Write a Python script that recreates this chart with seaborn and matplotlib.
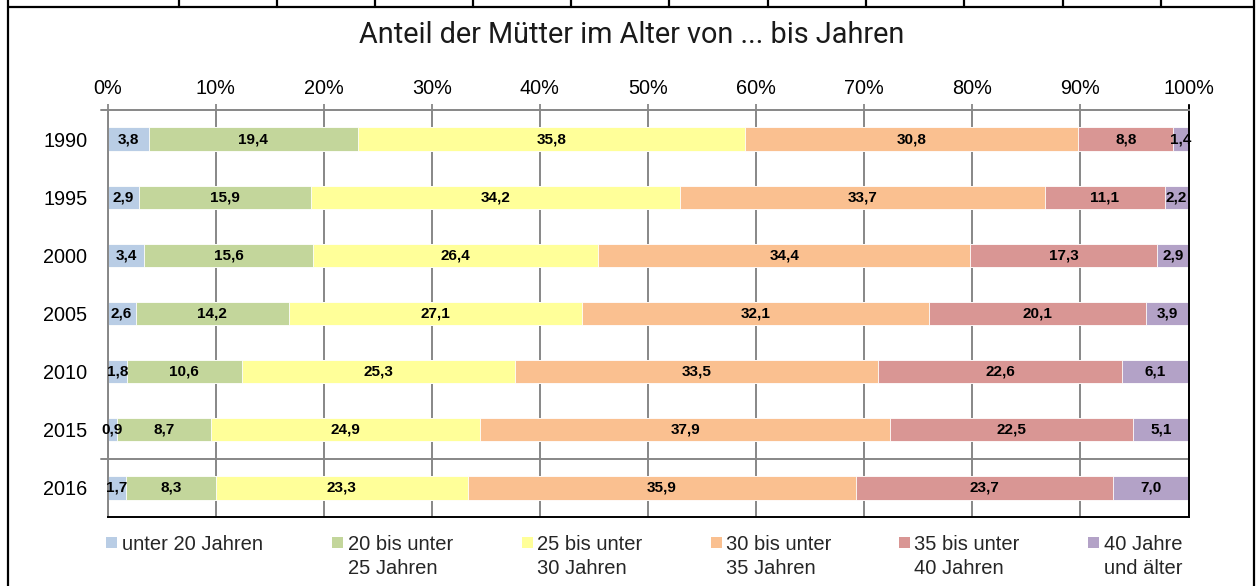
import numpy as np
import pandas as pd
import seaborn as sns
import matplotlib.pyplot as plt
from matplotlib.lines import Line2D
from matplotlib.patches import Rectangle

# Anteil der Mütter nach Altersgruppe, in %
years = ["1990", "1995", "2000", "2005", "2010", "2015", "2016"]
groups = ["unter 20 Jahren", "20 bis unter\n25 Jahren", "25 bis unter\n30 Jahren",
          "30 bis unter\n35 Jahren", "35 bis unter\n40 Jahren", "40 Jahre\nund älter"]
unter20 = [3.8, 2.9, 3.4, 2.6, 1.8, 0.9, 1.7]
j20_25 = [19.4, 15.9, 15.6, 14.2, 10.6, 8.7, 8.3]
j25_30 = [35.8, 34.2, 26.4, 27.1, 25.3, 24.9, 23.3]
j30_35 = [30.8, 33.7, 34.4, 32.1, 33.5, 37.9, 35.9]
j35_40 = [8.8, 11.1, 17.3, 20.1, 22.6, 22.5, 23.7]
ab40 = [1.4, 2.2, 2.9, 3.9, 6.1, 5.1, 7.0]
colors = ["#B9CDE5", "#C3D69B", "#FFFF99", "#FAC090", "#D99694", "#B3A2C7"]

W, H = 1258, 586
GRID = "#878787"

df = pd.DataFrame([unter20, j20_25, j25_30, j30_35, j35_40, ab40], index=groups, columns=years).T
pct = df.div(df.sum(axis=1), axis=0) * 100   # 100%-gestapelt wie in Excel
cum = pct.cumsum(axis=1)

sns.set_style("white")
plt.rcParams["font.family"] = ["Liberation Sans", "DejaVu Sans"]

fig = plt.figure(figsize=(W / 100, H / 100), dpi=100)
ax = fig.add_axes([107.5 / W, 1 - 517 / H, 1081 / W, (517 - 110) / H])

# gestapelte Balken: kumulierte Summen von hinten nach vorne zeichnen
for i in range(len(groups) - 1, -1, -1):
    d = pd.DataFrame({"year": years, "val": cum.iloc[:, i].values})
    sns.barplot(data=d, x="val", y="year", order=years, color=colors[i], width=0.4,
                saturation=1, edgecolor="white", linewidth=0.6, ax=ax)

# Werte in die Segmente schreiben
for r, yr in enumerate(years):
    for i, g in enumerate(groups):
        left = cum.iloc[r, i - 1] if i > 0 else 0
        mid = (left + cum.iloc[r, i]) / 2
        ax.text(mid, r, f"{df.iloc[r, i]:.1f}".replace(".", ","), ha="center", va="center",
                fontsize=11, fontweight="bold", color="black")

ax.set_xlim(0, 100)
ax.set_ylim(6.5, -0.5)
ax.set_xlabel("")
ax.set_ylabel("")
ax.set_xticks(np.arange(0, 101, 10))
ax.set_xticklabels([f"{t}%" for t in range(0, 101, 10)])
ax.xaxis.tick_top()
ax.tick_params(axis="x", top=True, bottom=False, direction="out", length=4, width=1.3,
               color=GRID, pad=5, labelsize=14.3, labelcolor="black")
ax.tick_params(axis="y", left=False, pad=11, labelsize=14.3, labelcolor="black")
ax.grid(axis="x", color=GRID, linewidth=1.4)
ax.grid(axis="y", visible=False)
ax.set_axisbelow(True)

for s in ["top", "left"]:
    ax.spines[s].set_color(GRID)
    ax.spines[s].set_linewidth(1.4)
for s in ["right", "bottom"]:
    ax.spines[s].set_color("black")
    ax.spines[s].set_linewidth(1.4)

# Trennlinie 2015 / 2016 und Verlängerung der oberen Achse
ax.plot([-0.006, 1], [5.5, 5.5], transform=ax.get_yaxis_transform(), color=GRID,
        lw=1.4, clip_on=False)
ax.plot([-0.006, 0], [1, 1], transform=ax.transAxes, color=GRID, lw=1.4, clip_on=False)
ax.plot([1, 1], [1, 1.012], transform=ax.transAxes, color="black", lw=1.4, clip_on=False)


def px(x, y):
    return x / W, 1 - y / H


# Titel
fig.text(*px(632, 35), "Anteil der Mütter im Alter von ... bis Jahren", ha="center",
         va="center", fontsize=20.8, family=["Roboto", "DejaVu Sans"], color="#1a1a1a")

# Legende (Grundlinie der letzten Zeile als Anker)
legend_x = [106, 332, 521.7, 710.7, 899, 1088]
for i, g in enumerate(groups):
    x0, y0 = px(legend_x[i], 548)
    fig.add_artist(Rectangle((x0, y0), 11 / W, 11 / H, transform=fig.transFigure,
                             facecolor=colors[i], edgecolor="none"))
    base = 550 + 24 * g.count("\n")
    fig.text(*px(legend_x[i] + 15.5, base), g, ha="left", va="baseline", fontsize=14.5,
             linespacing=1.3)

# Rahmen
frame = dict(color="black", lw=1.6, transform=fig.transFigure)
fig.add_artist(Line2D(*zip(px(8, 0), px(8, H)), **frame))
fig.add_artist(Line2D(*zip(px(1254, 0), px(1254, H)), **frame))
fig.add_artist(Line2D(*zip(px(8, 7), px(1254, 7)), **frame))
for xc in [179, 277, 375, 473, 571, 669, 768, 866, 964, 1063, 1161]:
    fig.add_artist(Line2D(*zip(px(xc, 0), px(xc, 7)), **frame))

fig.savefig("out.png", dpi=100)
